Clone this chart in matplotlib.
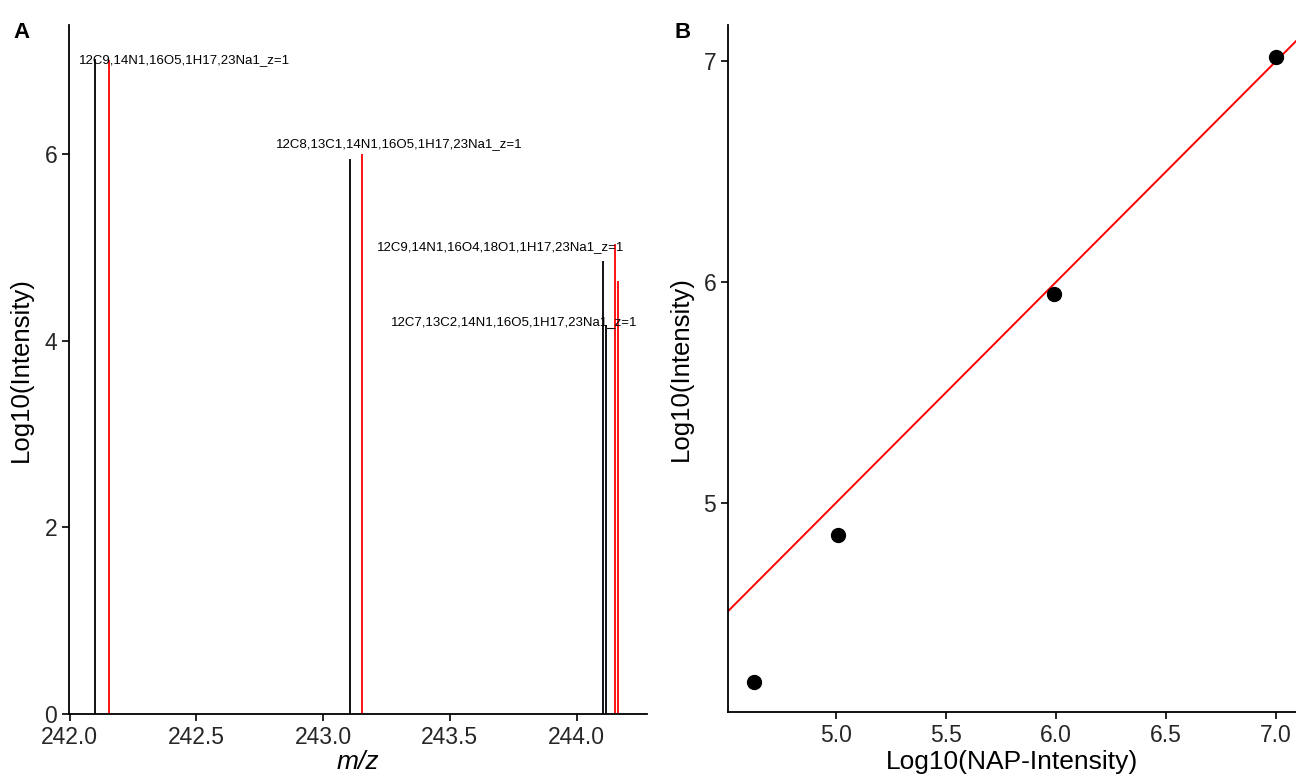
import matplotlib
matplotlib.use("Agg")
import matplotlib.pyplot as plt

plt.rcParams['font.family'] = ['Liberation Sans', 'DejaVu Sans']

# panel A: observed (black) and NAP predicted (red) isotopologue peaks
obs_mz = [242.100, 243.104, 244.103, 244.117]
obs_int = [7.02, 5.95, 4.85, 4.17]
nap_mz = [242.154, 243.154, 244.151, 244.162]
nap_int = [7.01, 6.00, 5.03, 4.64]
peak_labels = [
    "12C9,14N1,16O5,1H17,23Na1_z=1",
    "12C8,13C1,14N1,16O5,1H17,23Na1_z=1",
    "12C9,14N1,16O4,18O1,1H17,23Na1_z=1",
    "12C7,13C2,14N1,16O5,1H17,23Na1_z=1",
]
label_x = [242.455, 243.300, 243.700, 243.752]
label_y = [7.00, 6.10, 5.00, 4.20]

# panel B: NAP intensity vs observed intensity
nap_log = [4.63, 5.01, 5.99, 7.00]
obs_log = [4.19, 4.855, 5.945, 7.02]

W, H = 1296, 776
fig = plt.figure(figsize=(W / 100, H / 100), dpi=100)

axA = fig.add_axes([69 / W, 62 / H, (647 - 69) / W, (714 - 25) / H])
axB = fig.add_axes([728 / W, 64 / H, (1296 - 728) / W, (712 - 25) / H])

axA.vlines(obs_mz, 0, obs_int, color='black', lw=1.3)
axA.vlines(nap_mz, 0, nap_int, color='red', lw=1.3)
for txt, x, y in zip(peak_labels, label_x, label_y):
    axA.text(x, y, txt, ha='center', va='center', fontsize=9.5, color='black')
# small repel segment for the last label
axA.plot([obs_mz[3], nap_mz[2]], [4.13, 4.13], color='#333333', lw=0.8)

axA.set_xlim(242.0 - 0.002, 244.277)
axA.set_ylim(0, 7.38)
axA.set_xticks([242.0, 242.5, 243.0, 243.5, 244.0])
axA.set_xticklabels(['242.0', '242.5', '243.0', '243.5', '244.0'])
axA.set_yticks([0, 2, 4, 6])
axA.set_xlabel('m/z', fontsize=19, style='italic')
axA.set_ylabel('Log10(Intensity)', fontsize=18.5)
axA.xaxis.set_label_coords(0.5, -36 / 689)
axA.yaxis.set_label_coords(-36 / 578, 0.5)

xx = [4.45, 7.2]
axB.plot(xx, xx, color='red', lw=1.4)
axB.plot(nap_log, obs_log, 'o', color='black', ms=10)
axB.set_xlim(4.51, 7.09)
axB.set_ylim(4.054, 7.163)
axB.set_xticks([5.0, 5.5, 6.0, 6.5, 7.0])
axB.set_xticklabels(['5.0', '5.5', '6.0', '6.5', '7.0'])
axB.set_yticks([5, 6, 7])
axB.set_xlabel('Log10(NAP-Intensity)', fontsize=19)
axB.set_ylabel('Log10(Intensity)', fontsize=18.5)
axB.xaxis.set_label_coords(0.5, -38 / 687)
axB.yaxis.set_label_coords(-35 / 568, 0.5)

for ax in (axA, axB):
    for s in ('top', 'right'):
        ax.spines[s].set_visible(False)
    for s in ('left', 'bottom'):
        ax.spines[s].set_linewidth(1.3)
    ax.tick_params(length=5, width=1.2, colors='black', labelsize=16.5,
                   labelcolor='#262626', pad=3.5)

fig.text(22 / W, 1 - 32 / H, 'A', fontsize=16, fontweight='bold', va='center', ha='center')
fig.text(683 / W, 1 - 32 / H, 'B', fontsize=16, fontweight='bold', va='center', ha='center')

fig.savefig('out.png', dpi=100)
